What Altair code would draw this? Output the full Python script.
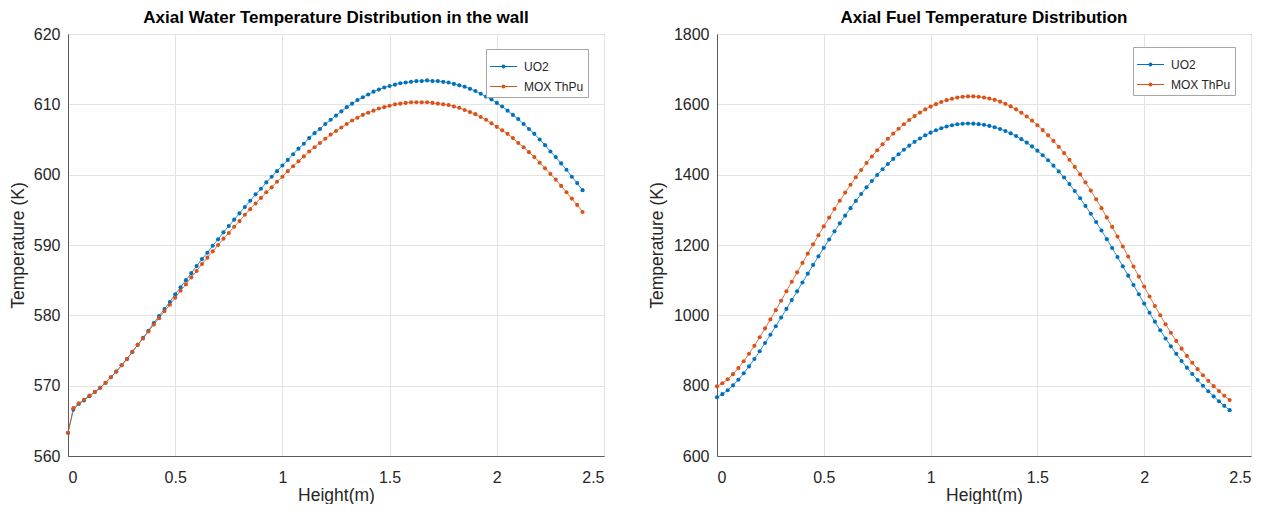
import altair as alt
import pandas as pd

FONT = "Liberation Sans"

height_m = [0.0, 0.025, 0.05, 0.075, 0.1, 0.125, 0.15, 0.175, 0.2, 0.225,
            0.25, 0.275, 0.3, 0.325, 0.35, 0.375, 0.4, 0.425, 0.45, 0.475,
            0.5, 0.525, 0.55, 0.575, 0.6, 0.625, 0.65, 0.675, 0.7, 0.725,
            0.75, 0.775, 0.8, 0.825, 0.85, 0.875, 0.9, 0.925, 0.95, 0.975,
            1.0, 1.025, 1.05, 1.075, 1.1, 1.125, 1.15, 1.175, 1.2, 1.225,
            1.25, 1.275, 1.3, 1.325, 1.35, 1.375, 1.4, 1.425, 1.45, 1.475,
            1.5, 1.525, 1.55, 1.575, 1.6, 1.625, 1.65, 1.675, 1.7, 1.725,
            1.75, 1.775, 1.8, 1.825, 1.85, 1.875, 1.9, 1.925, 1.95, 1.975,
            2.0, 2.025, 2.05, 2.075, 2.1, 2.125, 2.15, 2.175, 2.2, 2.225,
            2.25, 2.275, 2.3, 2.325, 2.35, 2.375, 2.4]

water_uo2 = [563.3, 566.6, 567.4, 567.9, 568.5, 569.1, 569.7, 570.4, 571.2, 572.0,
             572.9, 573.8, 574.8, 575.8, 576.8, 577.8, 578.9, 579.9, 580.9, 581.9,
             583.0, 584.0, 585.0, 586.0, 587.0, 588.0, 588.9, 589.9, 590.8, 591.8,
             592.7, 593.6, 594.5, 595.4, 596.3, 597.2, 598.0, 598.9, 599.7, 600.5,
             601.3, 602.1, 602.9, 603.7, 604.4, 605.2, 605.9, 606.5, 607.2, 607.8,
             608.4, 609.0, 609.6, 610.1, 610.6, 611.0, 611.4, 611.8, 612.1, 612.4,
             612.6, 612.8, 613.0, 613.1, 613.2, 613.3, 613.3, 613.4, 613.3, 613.3,
             613.2, 613.1, 612.9, 612.7, 612.5, 612.2, 611.9, 611.5, 611.1, 610.7,
             610.2, 609.7, 609.1, 608.5, 607.9, 607.2, 606.5, 605.8, 605.0, 604.2,
             603.3, 602.5, 601.6, 600.7, 599.7, 598.8, 597.8]

water_mox = [563.3, 566.8, 567.5, 568.0, 568.6, 569.1, 569.7, 570.4, 571.2, 572.0,
             572.9, 573.8, 574.8, 575.8, 576.7, 577.7, 578.7, 579.6, 580.6, 581.5,
             582.5, 583.5, 584.4, 585.4, 586.3, 587.3, 588.2, 589.1, 590.0, 590.9,
             591.7, 592.6, 593.4, 594.3, 595.1, 595.9, 596.7, 597.5, 598.2, 599.0,
             599.7, 600.5, 601.2, 601.9, 602.6, 603.3, 603.9, 604.5, 605.1, 605.7,
             606.2, 606.7, 607.2, 607.7, 608.1, 608.5, 608.8, 609.1, 609.4, 609.6,
             609.8, 610.0, 610.1, 610.2, 610.3, 610.3, 610.3, 610.3, 610.2, 610.1,
             610.0, 609.9, 609.7, 609.5, 609.2, 608.9, 608.6, 608.2, 607.8, 607.3,
             606.8, 606.3, 605.8, 605.2, 604.5, 603.9, 603.2, 602.5, 601.7, 600.9,
             600.1, 599.3, 598.4, 597.5, 596.6, 595.7, 594.7]

fuel_uo2 = [767.0, 775.8, 787.0, 800.8, 817.0, 835.2, 854.8, 875.7, 898.0, 921.2,
            944.9, 969.0, 993.5, 1018.3, 1043.3, 1068.3, 1093.5, 1118.6, 1143.4, 1167.8,
            1192.0, 1215.7, 1238.9, 1261.5, 1283.5, 1304.8, 1325.4, 1345.1, 1364.0, 1382.0,
            1399.1, 1415.3, 1430.5, 1444.8, 1458.2, 1470.8, 1482.5, 1493.3, 1503.0, 1511.8,
            1519.5, 1526.3, 1532.0, 1536.8, 1540.5, 1543.2, 1544.8, 1545.4, 1545.0, 1543.7,
            1541.6, 1538.6, 1534.8, 1530.0, 1524.3, 1517.5, 1509.8, 1501.0, 1491.2, 1480.3,
            1468.3, 1455.2, 1441.0, 1425.7, 1409.3, 1391.8, 1373.2, 1353.5, 1332.8, 1311.1,
            1288.7, 1265.4, 1241.3, 1216.6, 1191.3, 1165.6, 1139.3, 1112.8, 1086.3, 1059.8,
            1033.3, 1007.2, 982.0, 957.7, 934.3, 911.8, 890.5, 870.3, 851.3, 833.2,
            816.0, 799.7, 784.3, 769.7, 755.8, 742.7, 730.3]

fuel_mox = [798.0, 806.7, 818.3, 832.7, 850.0, 869.5, 890.6, 913.3, 937.5, 962.8,
            988.5, 1014.8, 1041.5, 1068.5, 1095.4, 1122.2, 1149.0, 1175.6, 1201.8, 1227.6,
            1253.0, 1277.9, 1302.2, 1325.9, 1349.0, 1371.3, 1392.7, 1413.3, 1433.0, 1451.8,
            1469.5, 1486.3, 1502.0, 1516.8, 1530.6, 1543.5, 1555.5, 1566.5, 1576.5, 1585.5,
            1593.5, 1600.5, 1606.6, 1611.8, 1616.0, 1619.2, 1621.4, 1622.5, 1622.5, 1621.6,
            1619.6, 1616.7, 1612.7, 1607.6, 1601.4, 1594.1, 1585.7, 1576.1, 1565.4, 1553.6,
            1540.7, 1526.7, 1511.8, 1496.0, 1479.2, 1461.4, 1442.3, 1422.1, 1400.7, 1378.2,
            1354.7, 1330.2, 1304.7, 1278.4, 1251.5, 1223.9, 1195.7, 1167.2, 1138.7, 1110.2,
            1081.7, 1053.6, 1026.4, 1000.1, 974.7, 950.3, 927.2, 905.3, 884.7, 865.2,
            846.9, 829.7, 813.7, 798.6, 784.5, 771.4, 759.2]

series_names = ["UO2", "MOX ThPu"]
series_colors = ["#0072BD", "#D95319"]
x_ticks = [0, 0.5, 1, 1.5, 2, 2.5]
water_ticks = [560, 570, 580, 590, 600, 610, 620]
fuel_ticks = [600, 800, 1000, 1200, 1400, 1600, 1800]

# legend symbol: short line with a dot (octagon) in the middle
LEG_SYMBOL = ("M-1,-0.035L1,-0.035L1,0.035L-1,0.035Z"
              "M-0.15,0L-0.106,-0.106L0,-0.15L0.106,-0.106L0.15,0"
              "L0.106,0.106L0,0.15L-0.106,0.106Z")


def long_df(a, b):
    return pd.DataFrame({
        "Height": height_m + height_m,
        "Temp": a + b,
        "Series": [series_names[0]] * len(a) + [series_names[1]] * len(b),
    })


def panel(df, title, ydom, yticks, lx, ly, ytitle_x, width):
    cscale = alt.Scale(domain=series_names, range=series_colors)
    x = alt.X("Height:Q",
              scale=alt.Scale(domain=[0, 2.5], nice=False, zero=False),
              axis=alt.Axis(values=x_ticks, format="~g", title="Height(m)",
                            titleY=44, titleBaseline="alphabetic",
                            labelPadding=13, ticks=False, grid=True))
    y = alt.Y("Temp:Q",
              scale=alt.Scale(domain=ydom, nice=False, zero=False),
              axis=alt.Axis(values=yticks, format="d", title="Temperature (K)",
                            titleX=ytitle_x, titleBaseline="middle",
                            labelPadding=8, ticks=False, grid=True))
    base = alt.Chart(df)
    line = base.mark_line(strokeWidth=0.8).encode(
        x=x, y=y,
        detail="Series:N",
        stroke=alt.condition(f"datum.Series == '{series_names[0]}'",
                             alt.value(series_colors[0]),
                             alt.value(series_colors[1])),
    )
    pts = base.mark_circle(size=17, opacity=1).encode(
        x=x, y=y,
        color=alt.Color("Series:N", scale=cscale,
                        legend=alt.Legend(title=None, orient="none",
                                          legendX=lx, legendY=ly,
                                          symbolType=LEG_SYMBOL, symbolSize=729,
                                          symbolStrokeWidth=0,
                                          labelFont=FONT, labelFontSize=12,
                                          labelColor="#262626",
                                          fillColor="white", strokeColor="#a6a6a6",
                                          padding=4, rowPadding=-1, labelOffset=7)),
    )
    return alt.layer(line, pts).properties(
        width=width, height=422,
        title=alt.TitleParams(title, anchor="middle"),
    )


left = panel(long_df(water_uo2, water_mox),
             "Axial Water Temperature Distribution in the wall",
             [560, 620], water_ticks, 418, 15, -50, 536)
right = panel(long_df(fuel_uo2, fuel_mox),
              "Axial Fuel Temperature Distribution",
              [600, 1800], fuel_ticks, 416, 13, -60, 534)

chart = alt.hconcat(left, right, spacing=42).resolve_scale(
    color="independent"
).resolve_legend(
    color="independent"
).properties(
    padding={"left": 0, "top": 0, "right": 0, "bottom": 0}
).configure(font=FONT).configure_view(
    stroke="#5a5a5a", strokeWidth=1
).configure_axis(
    domainColor="#5a5a5a", gridColor="#e3e3e3", gridWidth=1,
    labelFont=FONT, labelFontSize=16, labelColor="#262626",
    titleFont=FONT, titleFontSize=17.5, titleColor="#262626", titleFontWeight="normal",
).configure_title(
    font=FONT, fontSize=17, fontWeight="bold", color="#000000", offset=-1
)

chart.save("out.html", embed_options={"renderer": "svg", "actions": False})
